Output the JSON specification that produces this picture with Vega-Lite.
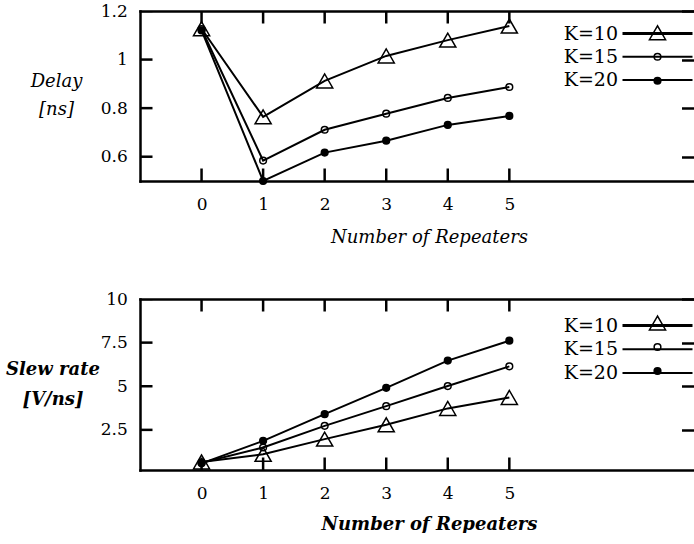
{
  "$schema": "https://vega.github.io/schema/vega-lite/v6.json",
  "padding": {"left": 5, "top": 2, "right": 0, "bottom": 0},
  "bounds": "flush",
  "spacing": 118,
  "datasets": {
    "delay": [
      {"n": 0, "K": "K=10", "v": 1.127}, {"n": 1, "K": "K=10", "v": 0.764}, {"n": 2, "K": "K=10", "v": 0.912},
      {"n": 3, "K": "K=10", "v": 1.015}, {"n": 4, "K": "K=10", "v": 1.08}, {"n": 5, "K": "K=10", "v": 1.138},
      {"n": 0, "K": "K=15", "v": 1.125}, {"n": 1, "K": "K=15", "v": 0.584}, {"n": 2, "K": "K=15", "v": 0.711},
      {"n": 3, "K": "K=15", "v": 0.777}, {"n": 4, "K": "K=15", "v": 0.842}, {"n": 5, "K": "K=15", "v": 0.887},
      {"n": 0, "K": "K=20", "v": 1.12}, {"n": 1, "K": "K=20", "v": 0.5}, {"n": 2, "K": "K=20", "v": 0.617},
      {"n": 3, "K": "K=20", "v": 0.666}, {"n": 4, "K": "K=20", "v": 0.731}, {"n": 5, "K": "K=20", "v": 0.768}
    ],
    "slew": [
      {"n": 0, "K": "K=10", "v": 0.66}, {"n": 1, "K": "K=10", "v": 1.1}, {"n": 2, "K": "K=10", "v": 1.97},
      {"n": 3, "K": "K=10", "v": 2.79}, {"n": 4, "K": "K=10", "v": 3.73}, {"n": 5, "K": "K=10", "v": 4.36},
      {"n": 0, "K": "K=15", "v": 0.62}, {"n": 1, "K": "K=15", "v": 1.49}, {"n": 2, "K": "K=15", "v": 2.73},
      {"n": 3, "K": "K=15", "v": 3.86}, {"n": 4, "K": "K=15", "v": 5.01}, {"n": 5, "K": "K=15", "v": 6.14},
      {"n": 0, "K": "K=20", "v": 0.58}, {"n": 1, "K": "K=20", "v": 1.87}, {"n": 2, "K": "K=20", "v": 3.4},
      {"n": 3, "K": "K=20", "v": 4.91}, {"n": 4, "K": "K=20", "v": 6.47}, {"n": 5, "K": "K=20", "v": 7.61}
    ],
    "xticks": [{"t": 0}, {"t": 1}, {"t": 2}, {"t": 3}, {"t": 4}, {"t": 5}],
    "delayticks": [{"t": 0.6}, {"t": 0.8}, {"t": 1}, {"t": 1.2}],
    "slewticks": [{"t": 2.5}, {"t": 5}, {"t": 7.5}, {"t": 10}]
  },
  "config": {
    "font": "DejaVu Serif",
    "view": {"stroke": null},
    "axis": {
      "grid": false, "domainColor": "black", "domainWidth": 2.5, "domainCap": "square",
      "tickColor": "black", "tickWidth": 2.5, "tickSize": 12.5, "ticks": true,
      "labelFont": "DejaVu Serif", "labelFontSize": 17, "labelColor": "black",
      "labelFlush": false, "labelOverlap": false, "labelExpr": "'' + datum.value",
      "titleFont": "DejaVu Serif", "titleFontSize": 18, "titleFontStyle": "italic",
      "titleFontWeight": "normal", "titleColor": "black"
    },
    "legend": {"labelFont": "DejaVu Serif", "labelFontSize": 19, "labelColor": "black", "padding": 0}
  },
  "resolve": {"scale": {"color": "independent", "shape": "independent", "fill": "independent", "size": "independent"}},
  "vconcat": [
    {
      "width": 554, "height": 170,
      "layer": [
        {
          "data": {"name": "delay"},
          "mark": {"type": "line", "color": "black", "strokeWidth": 2},
          "encoding": {
            "x": {"field": "n", "type": "quantitative", "scale": {"domain": [-1, 8], "nice": false, "zero": false},
              "axis": {"orient": "bottom", "values": [0, 1, 2, 3, 4, 5], "ticks": false, "labelPadding": 15,
                "title": "Number of Repeaters", "titleX": 289, "titleY": 56, "titleBaseline": "middle", "titleAlign": "center"}},
            "y": {"field": "v", "type": "quantitative", "scale": {"domain": [0.5, 1.2], "nice": false, "zero": false},
              "axis": {"orient": "left", "values": [0.6, 0.8, 1, 1.2], "ticks": false, "labelPadding": 12.7,
                "title": ["Delay", "[ns]"], "titleAngle": 0, "titleX": -84, "titleY": 70, "titleAlign": "center",
                "titleBaseline": "middle", "titleLineHeight": 28}},
            "color": {"field": "K", "type": "nominal",
              "scale": {"domain": ["K=10", "K=15", "K=20"], "range": ["black", "black", "black"]},
              "legend": {"orient": "none", "legendX": 508, "legendY": 13, "title": null, "symbolType": "M-7,0H7",
                "symbolSize": 100, "rowPadding": 3.3, "labelAlign": "right", "labelOffset": -49,
                "symbolStrokeColor": "black",
                "encode": {"symbols": {"update": {"stroke": {"value": "black"}, "fill": {"value": "transparent"}, "opacity": {"value": 1},
                  "strokeWidth": {"signal": "datum.value === 'K=10' ? 3 : 2"}}}}}}
          }
        },
        {
          "data": {"name": "delay"},
          "mark": {"type": "point", "stroke": "black", "strokeWidth": 1.5, "opacity": 1},
          "encoding": {
            "x": {"field": "n", "type": "quantitative", "scale": {"domain": [-1, 8], "nice": false, "zero": false}, "axis": null},
            "y": {"field": "v", "type": "quantitative", "scale": {"domain": [0.5, 1.2], "nice": false, "zero": false}, "axis": null},
            "shape": {"field": "K", "type": "nominal", "scale": {"range": ["triangle-up", "circle", "circle"]},
              "legend": {"orient": "none", "legendX": 508, "legendY": 10, "title": null, "clipHeight": 23.5, "rowPadding": 0,
                "labelExpr": "''", "encode": {"symbols": {"update": {"stroke": {"value": "black"}, "strokeWidth": {"value": 1.5}}}}}},
            "fill": {"field": "K", "type": "nominal", "scale": {"range": ["transparent", "transparent", "black"]},
              "legend": {"orient": "none", "legendX": 508, "legendY": 10, "title": null, "clipHeight": 23.5, "rowPadding": 0,
                "labelExpr": "''", "encode": {"symbols": {"update": {"stroke": {"value": "black"}, "strokeWidth": {"value": 1.5}}}}}},
            "size": {"field": "K", "type": "nominal", "scale": {"type": "ordinal", "range": [260, 45, 45]},
              "legend": {"orient": "none", "legendX": 508, "legendY": 10, "title": null, "clipHeight": 23.5, "rowPadding": 0,
                "labelExpr": "''", "encode": {"symbols": {"update": {"stroke": {"value": "black"}, "strokeWidth": {"value": 1.5}}}}}}
          }
        },
        {
          "data": {"name": "delay"},
          "mark": {"type": "point", "opacity": 0},
          "encoding": {
            "x": {"field": "n", "type": "quantitative", "scale": {"domain": [-1, 8], "nice": false, "zero": false},
              "axis": {"orient": "bottom", "offset": -170, "values": [0, 1, 2, 3, 4, 5], "labels": false, "domain": true, "ticks": false, "title": null}},
            "y": {"field": "v", "type": "quantitative", "scale": {"domain": [0.5, 1.2], "nice": false, "zero": false},
              "axis": {"orient": "left", "offset": -554, "values": [0.6, 0.8, 1, 1.2], "labels": false, "domain": false, "ticks": true, "title": null}}
          }
        },
        {
          "data": {"name": "xticks"},
          "mark": {"type": "tick", "orient": "vertical", "size": 25, "thickness": 2.5, "color": "black", "opacity": 1, "clip": true},
          "encoding": {
            "x": {"field": "t", "type": "quantitative", "scale": {"domain": [-1, 8], "nice": false, "zero": false}, "axis": null},
            "y": {"datum": 0.5, "type": "quantitative", "scale": {"domain": [0.5, 1.2], "nice": false, "zero": false}, "axis": null}
          }
        },
        {
          "data": {"name": "xticks"},
          "mark": {"type": "tick", "orient": "vertical", "size": 25, "thickness": 2.5, "color": "black", "opacity": 1, "clip": true},
          "encoding": {
            "x": {"field": "t", "type": "quantitative", "scale": {"domain": [-1, 8], "nice": false, "zero": false}, "axis": null},
            "y": {"datum": 1.2, "type": "quantitative", "scale": {"domain": [0.5, 1.2], "nice": false, "zero": false}, "axis": null}
          }
        },
        {
          "data": {"name": "delayticks"},
          "mark": {"type": "tick", "orient": "horizontal", "size": 25, "thickness": 2.5, "color": "black", "opacity": 1, "clip": true},
          "encoding": {
            "x": {"datum": -1, "type": "quantitative", "scale": {"domain": [-1, 8], "nice": false, "zero": false}, "axis": null},
            "y": {"field": "t", "type": "quantitative", "scale": {"domain": [0.5, 1.2], "nice": false, "zero": false}, "axis": null}
          }
        }
      ],
      "resolve": {"axis": {"x": "independent", "y": "independent"}}
    },
    {
      "width": 554, "height": 171,
      "layer": [
        {
          "data": {"name": "slew"},
          "mark": {"type": "line", "color": "black", "strokeWidth": 2},
          "encoding": {
            "x": {"field": "n", "type": "quantitative", "scale": {"domain": [-1, 8], "nice": false, "zero": false},
              "axis": {"orient": "bottom", "values": [0, 1, 2, 3, 4, 5], "ticks": false, "labelPadding": 15,
                "title": "Number of Repeaters", "titleX": 289, "titleY": 54, "titleBaseline": "middle", "titleAlign": "center",
                "titleFontWeight": "bold"}},
            "y": {"field": "v", "type": "quantitative", "scale": {"domain": [0.2, 10], "nice": false, "zero": false},
              "axis": {"orient": "left", "values": [2.5, 5, 7.5, 10], "ticks": false, "labelPadding": 12.7,
                "title": ["Slew rate", "[V/ns]"], "titleAngle": 0, "titleX": -87.5, "titleY": 70, "titleAlign": "center",
                "titleBaseline": "middle", "titleLineHeight": 30, "titleFontWeight": "bold"}},
            "color": {"field": "K", "type": "nominal",
              "scale": {"domain": ["K=10", "K=15", "K=20"], "range": ["black", "black", "black"]},
              "legend": {"orient": "none", "legendX": 508, "legendY": 17, "title": null, "symbolType": "M-7,0H7",
                "symbolSize": 100, "rowPadding": 3.8, "labelAlign": "right", "labelOffset": -49,
                "symbolStrokeColor": "black",
                "encode": {"symbols": {"update": {"stroke": {"value": "black"}, "fill": {"value": "transparent"}, "opacity": {"value": 1},
                  "strokeWidth": {"signal": "datum.value === 'K=10' ? 3 : 2"}}}}}}
          }
        },
        {
          "data": {"name": "slew"},
          "mark": {"type": "point", "stroke": "black", "strokeWidth": 1.5, "opacity": 1},
          "encoding": {
            "x": {"field": "n", "type": "quantitative", "scale": {"domain": [-1, 8], "nice": false, "zero": false}, "axis": null},
            "y": {"field": "v", "type": "quantitative", "scale": {"domain": [0.2, 10], "nice": false, "zero": false}, "axis": null},
            "shape": {"field": "K", "type": "nominal", "scale": {"range": ["triangle-up", "circle", "circle"]},
              "legend": {"orient": "none", "legendX": 508, "legendY": 12, "title": null, "clipHeight": 24, "rowPadding": 0,
                "labelExpr": "''", "encode": {"symbols": {"update": {"stroke": {"value": "black"}, "strokeWidth": {"value": 1.5}}}}}},
            "fill": {"field": "K", "type": "nominal", "scale": {"range": ["transparent", "transparent", "black"]},
              "legend": {"orient": "none", "legendX": 508, "legendY": 12, "title": null, "clipHeight": 24, "rowPadding": 0,
                "labelExpr": "''", "encode": {"symbols": {"update": {"stroke": {"value": "black"}, "strokeWidth": {"value": 1.5}}}}}},
            "size": {"field": "K", "type": "nominal", "scale": {"type": "ordinal", "range": [260, 45, 45]},
              "legend": {"orient": "none", "legendX": 508, "legendY": 12, "title": null, "clipHeight": 24, "rowPadding": 0,
                "labelExpr": "''", "encode": {"symbols": {"update": {"stroke": {"value": "black"}, "strokeWidth": {"value": 1.5}}}}}}
          }
        },
        {
          "data": {"name": "slew"},
          "mark": {"type": "point", "opacity": 0},
          "encoding": {
            "x": {"field": "n", "type": "quantitative", "scale": {"domain": [-1, 8], "nice": false, "zero": false},
              "axis": {"orient": "bottom", "offset": -171, "values": [0, 1, 2, 3, 4, 5], "labels": false, "domain": true, "ticks": false, "title": null}},
            "y": {"field": "v", "type": "quantitative", "scale": {"domain": [0.2, 10], "nice": false, "zero": false},
              "axis": {"orient": "left", "offset": -554, "values": [2.5, 5, 7.5, 10], "labels": false, "domain": false, "ticks": true, "title": null}}
          }
        },
        {
          "data": {"name": "xticks"},
          "mark": {"type": "tick", "orient": "vertical", "size": 25, "thickness": 2.5, "color": "black", "opacity": 1, "clip": true},
          "encoding": {
            "x": {"field": "t", "type": "quantitative", "scale": {"domain": [-1, 8], "nice": false, "zero": false}, "axis": null},
            "y": {"datum": 0.2, "type": "quantitative", "scale": {"domain": [0.2, 10], "nice": false, "zero": false}, "axis": null}
          }
        },
        {
          "data": {"name": "xticks"},
          "mark": {"type": "tick", "orient": "vertical", "size": 25, "thickness": 2.5, "color": "black", "opacity": 1, "clip": true},
          "encoding": {
            "x": {"field": "t", "type": "quantitative", "scale": {"domain": [-1, 8], "nice": false, "zero": false}, "axis": null},
            "y": {"datum": 10, "type": "quantitative", "scale": {"domain": [0.2, 10], "nice": false, "zero": false}, "axis": null}
          }
        },
        {
          "data": {"name": "slewticks"},
          "mark": {"type": "tick", "orient": "horizontal", "size": 25, "thickness": 2.5, "color": "black", "opacity": 1, "clip": true},
          "encoding": {
            "x": {"datum": -1, "type": "quantitative", "scale": {"domain": [-1, 8], "nice": false, "zero": false}, "axis": null},
            "y": {"field": "t", "type": "quantitative", "scale": {"domain": [0.2, 10], "nice": false, "zero": false}, "axis": null}
          }
        }
      ],
      "resolve": {"axis": {"x": "independent", "y": "independent"}}
    }
  ]
}
